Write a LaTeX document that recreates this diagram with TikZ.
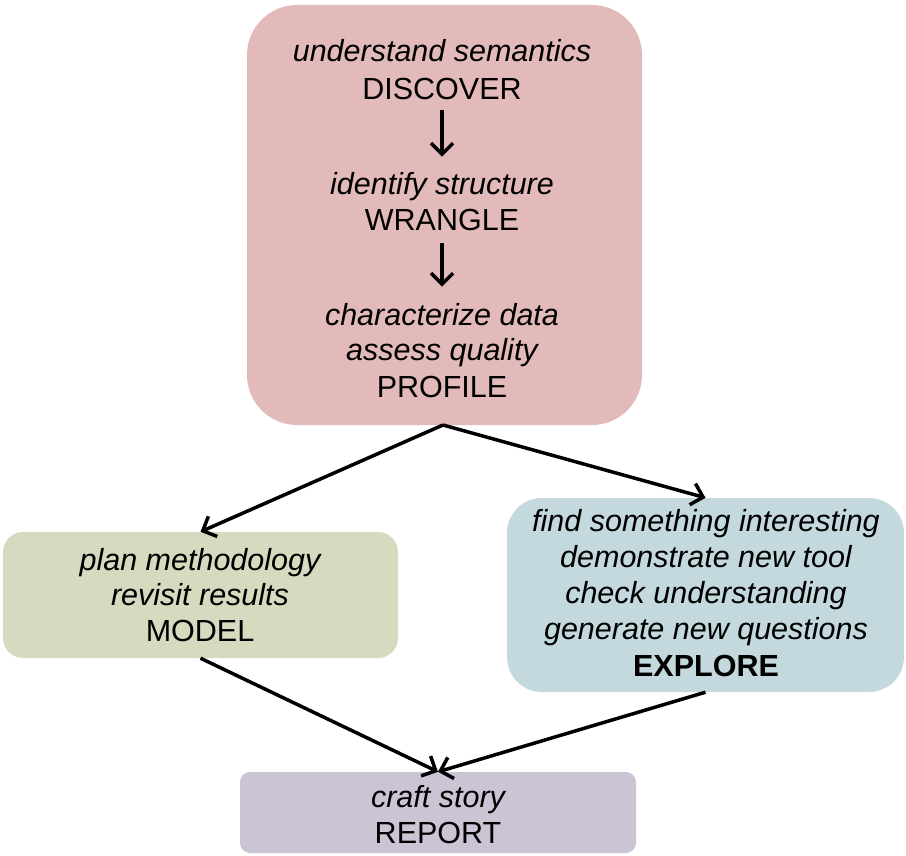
\documentclass[tikz,border=0pt]{standalone}
\usepackage{fontspec}
\setmainfont{Liberation Sans}
\usetikzlibrary{arrows.meta}
\definecolor{pinkc}{HTML}{E2BAB9}
\definecolor{greenc}{HTML}{D4DBBE}
\definecolor{bluec}{HTML}{C3D9DD}
\definecolor{purplec}{HTML}{CBC4D4}
\tikzset{
  box/.style={draw=none, inner sep=0pt},
  txt/.style={anchor=base, inner sep=0pt, font=\fontsize{30.5}{36}\selectfont},
  itx/.style={txt, font=\fontsize{30.5}{36}\selectfont\itshape},
  conn/.style={line width=3.5pt, -{Straight Barb[length=11pt,width=22pt,line width=3.5pt]}},
}
\begin{document}
\begin{tikzpicture}[x=1pt,y=-1pt]
\useasboundingbox (0,0) rectangle (906,856);
% boxes
\node[box, fill=pinkc, rounded corners=50pt, minimum width=395pt, minimum height=420pt] (top) at (444.5,215) {};
\node[box, fill=greenc, rounded corners=20pt, minimum width=395pt, minimum height=126pt] (model) at (200.5,595) {};
\node[box, fill=bluec, rounded corners=35pt, minimum width=397pt, minimum height=194pt] (explore) at (705.5,595) {};
\node[box, fill=purplec, rounded corners=10pt, minimum width=396pt, minimum height=81pt] (report) at (438,812.5) {};
% top texts
\node[itx] (t1) at (442,62) {understand semantics};
\node[txt] (discover) at (442,100) {DISCOVER};
\node[itx] (t2) at (442,195) {identify structure};
\node[txt] (wrangle) at (442,230) {WRANGLE};
\node[itx] (t3) at (442,325) {characterize data};
\node[itx] (t4) at (442,360) {assess quality};
\node[txt] (profile) at (442,397) {PROFILE};
% model texts
\node[itx] (m1) at (200,570) {plan methodology};
\node[itx] (m2) at (200,605) {revisit results};
\node[txt] (m3) at (200,641) {MODEL};
% explore texts
\node[itx] (e1) at (706,531) {find something interesting};
\node[itx] (e2) at (706,567) {demonstrate new tool};
\node[itx] (e3) at (706,603) {check understanding};
\node[itx] (e4) at (706,639) {generate new questions};
\node[txt, font=\fontsize{30.5}{36}\selectfont\bfseries] (e5) at (706,676) {EXPLORE};
% report texts
\node[itx] (r1) at (438,807) {craft story};
\node[txt] (r2) at (438,843) {REPORT};
% inner arrows
\draw[conn] ([yshift=-10pt]discover.south) -- ([yshift=16pt]t2.north);
\draw[conn] ([yshift=-13pt]wrangle.south) -- ([yshift=16pt]t3.north);
% connectors
\coordinate (topb) at (443,425);
\draw[conn] (topb) -- (model.north);
\draw[conn] (topb) -- (explore.north);
\draw[conn] (model.south) -- (report.north);
\draw[conn] (explore.south) -- (report.north);
\end{tikzpicture}
\end{document}
